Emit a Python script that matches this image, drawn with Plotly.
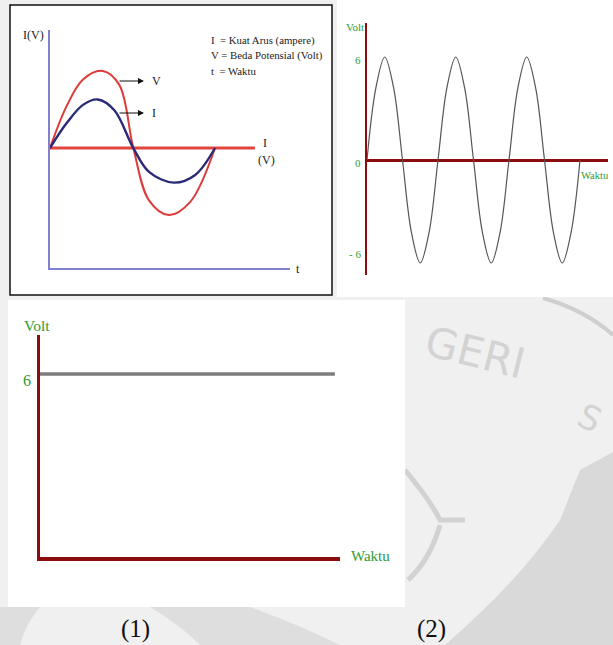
import plotly.graph_objects as go

W, H = 613, 645

# ---------------- data ----------------
# Panel A (I and V against time, one period = 1)
v_t = [0, 0.10, 0.20, 0.32, 0.42, 0.505, 0.60, 0.72, 0.85, 1.0]
v_val = [0, 0.54, 0.89, 1.0, 0.82, 0, -0.68, -0.87, -0.70, 0]
i_t = [0, 0.10, 0.20, 0.29, 0.39, 0.505, 0.60, 0.75, 0.88, 1.0]
i_val = [0, 0.32, 0.56, 0.63, 0.49, 0, -0.31, -0.45, -0.35, 0]
a_ref_t = [0, 1.242]
a_ref_val = [0, 0]
legend_lines = ["I  = Kuat Arus (ampere)", "V = Beda Potensial (Volt)", "t  = Waktu"]

# Panel (2): AC voltage, 3 periods
ac_t = [0, 0.125, 0.25, 0.375, 0.5, 0.625, 0.75, 0.875,
        1, 1.125, 1.25, 1.375, 1.5, 1.625, 1.75, 1.875,
        2, 2.125, 2.25, 2.375, 2.5, 2.625, 2.75, 2.875, 3]
ac_v = [0, 4.2, 6, 4.2, 0, -4.2, -6, -4.2,
        0, 4.2, 6, 4.2, 0, -4.2, -6, -4.2,
        0, 4.2, 6, 4.2, 0, -4.2, -6, -4.2, 0]
ac_ticks = [6, 0, -6]
ac_ticktext = ["6", "0", "- 6"]

# Panel (1): DC voltage
dc_t = [0, 9.83]
dc_v = [6, 6]
dc_ticks = [6, 0]
captions = ["(1)", "(2)"]


def px(x):
    return x / W


def py(y):
    return 1 - y / H


SERIF = "Liberation Serif"
GREEN = "#2f9a2f"
DARKRED = "#8a0c0c"
PURPLE = "#8080cc"

fig = go.Figure()

# Panel A traces
fig.add_trace(go.Scatter(x=a_ref_t, y=a_ref_val, mode="lines",
                         line=dict(color="#e2453c", width=3), xaxis="x", yaxis="y"))
fig.add_trace(go.Scatter(x=v_t, y=v_val, mode="lines", line_shape="spline",
                         line=dict(color="#dd3a3a", width=2), xaxis="x", yaxis="y"))
fig.add_trace(go.Scatter(x=i_t, y=i_val, mode="lines", line_shape="spline",
                         line=dict(color="#2b2a78", width=2.4), xaxis="x", yaxis="y"))

# Panel B trace
fig.add_trace(go.Scatter(x=ac_t, y=ac_v, mode="lines", line_shape="spline",
                         line=dict(color="#555555", width=1.2), xaxis="x2", yaxis="y2"))

# Panel C trace
fig.add_trace(go.Scatter(x=dc_t, y=dc_v, mode="lines",
                         line=dict(color="#7d7d7d", width=3.5), xaxis="x3", yaxis="y3"))

hidden = dict(showgrid=False, zeroline=False, showticklabels=False, ticks="", fixedrange=True)

layout = dict(
    width=W, height=H, margin=dict(l=0, r=0, t=0, b=0),
    paper_bgcolor="#f0f0f0", plot_bgcolor="rgba(0,0,0,0)", showlegend=False,
    hovermode=False,
    xaxis=dict(domain=[px(50), px(290)], range=[0, 240 / 165], showline=True,
               linecolor=PURPLE, linewidth=2, anchor="y", **hidden),
    yaxis=dict(domain=[py(268), py(30)], range=[(148 - 268) / 77, (148 - 30) / 77],
               showline=True, linecolor=PURPLE, linewidth=2, anchor="x", **hidden),
    xaxis2=dict(domain=[px(367), px(608)], range=[0, 241 / 71], showline=False,
                anchor="y2", **hidden),
    yaxis2=dict(domain=[py(275), py(23)], range=[(160 - 275) / 17.17, (160 - 23) / 17.17],
                showline=True, linecolor=DARKRED, linewidth=2, anchor="x2",
                showgrid=False, zeroline=True, zerolinecolor=DARKRED, zerolinewidth=3,
                showticklabels=False, ticks="", fixedrange=True),
    xaxis3=dict(domain=[px(40), px(340)], range=[0, 10], showline=True,
                linecolor=DARKRED, linewidth=3.5, anchor="y3", **hidden),
    yaxis3=dict(domain=[py(557), py(335)], range=[0, 222 / 30.5], showline=True,
                linecolor=DARKRED, linewidth=3, anchor="x3", **hidden),
)
fig.update_layout(**layout)

shapes = []
# watermark patches
shapes.append(dict(type="path", xref="paper", yref="paper", layer="below",
                   path=f"M {px(580)} {py(470)} L {px(613)} {py(452)} L {px(613)} {py(645)} "
                        f"L {px(445)} {py(645)} Q {px(520)} {py(580)} {px(560)} {py(520)} Z",
                   fillcolor="#d9d9d9", line=dict(width=0)))
shapes.append(dict(type="path", xref="paper", yref="paper", layer="below",
                   path=f"M {px(150)} {py(607)} L {px(250)} {py(607)} Q {px(300)} {py(625)} {px(340)} {py(645)} "
                        f"L {px(200)} {py(645)} Q {px(180)} {py(625)} {px(150)} {py(607)} Z",
                   fillcolor="#dedede", line=dict(width=0)))
shapes.append(dict(type="path", xref="paper", yref="paper", layer="below",
                   path=f"M {px(0)} {py(607)} L {px(40)} {py(607)} Q {px(25)} {py(625)} {px(20)} {py(645)} "
                        f"L {px(0)} {py(645)} Z",
                   fillcolor="#dedede", line=dict(width=0)))
shapes.append(dict(type="path", xref="paper", yref="paper", layer="below",
                   path=f"M {px(543)} {py(298)} Q {px(585)} {py(310)} {px(613)} {py(335)}",
                   line=dict(color="#cfcfcf", width=4)))
shapes.append(dict(type="path", xref="paper", yref="paper", layer="below",
                   path=f"M {px(405)} {py(470)} Q {px(430)} {py(500)} {px(440)} {py(520)} "
                        f"L {px(465)} {py(520)} M {px(440)} {py(525)} Q {px(430)} {py(560)} {px(408)} {py(580)}",
                   line=dict(color="#d2d2d2", width=5)))
# white panel backgrounds
shapes.append(dict(type="rect", xref="paper", yref="paper", layer="below",
                   x0=px(10), x1=px(332), y0=py(295), y1=py(5),
                   fillcolor="white", line=dict(color="#111111", width=1.5)))
shapes.append(dict(type="rect", xref="paper", yref="paper", layer="below",
                   x0=px(337), x1=px(613), y0=py(297), y1=py(0),
                   fillcolor="white", line=dict(width=0)))
shapes.append(dict(type="rect", xref="paper", yref="paper", layer="below",
                   x0=px(8), x1=px(405), y0=py(607), y1=py(300),
                   fillcolor="white", line=dict(width=0)))
fig.update_layout(shapes=shapes)

ann = []


def txt(x, y, s, size, color="#222222", xanchor="center", family=SERIF, angle=0):
    ann.append(dict(x=px(x), y=py(y), xref="paper", yref="paper", text=s, showarrow=False,
                    xanchor=xanchor, yanchor="middle", textangle=angle,
                    font=dict(family=family, size=size, color=color)))


# watermark text
txt(475, 352, "GERI", 42, color="#d3d3d3", family="DejaVu Sans", angle=14)
txt(590, 418, "S", 34, color="#d3d3d3", family="DejaVu Sans", angle=25)

# Panel A text
txt(33, 35, "I(V)", 12)
txt(298, 269, "t", 12)
txt(265, 143, "I", 12)
txt(266, 160, "(V)", 12)
for k, line in enumerate(legend_lines):
    txt(209, 40 + k * 15.5, line, 10.8, xanchor="left")
for yy, lab in [(81, "V"), (113, "I")]:
    ann.append(dict(x=px(144), y=py(yy), xref="paper", yref="paper", text="", showarrow=True,
                    ax=-26, ay=0, arrowhead=2, arrowsize=1, arrowwidth=1.2, arrowcolor="#111111"))
    txt(150, yy, lab, 12, xanchor="left")

# Panel B text
txt(355, 27, "Volt", 11, color=GREEN)
for v, t in zip(ac_ticks, ac_ticktext):
    ann.append(dict(x=px(363), y=v + (-0.15 if v == 0 else (-0.2 if v > 0 else 0.5)), xref="paper", yref="y2",
                    text=t, showarrow=False, xanchor="right", yanchor="middle",
                    font=dict(family=SERIF, size=11, color=GREEN)))
txt(611, 175, "Waktu", 10.5, color=GREEN, xanchor="right")

# Panel C text
txt(37, 325, "Volt", 15.5, color=GREEN)
for v in dc_ticks:
    ann.append(dict(x=px(33), y=v - 0.22 if v > 0 else v - 0.42, xref="paper", yref="y3",
                    text=str(v), showarrow=False, xanchor="right", yanchor="middle",
                    font=dict(family=SERIF, size=16, color=GREEN)))
txt(349, 556, "Waktu", 15, color=GREEN, xanchor="left")

# captions
txt(135, 629, captions[0], 25, color="#111111")
txt(431, 629, captions[1], 25, color="#111111")

fig.update_layout(annotations=ann)

fig.write_html("out.html", config={"displayModeBar": False, "staticPlot": True},
               post_script="document.body.style.margin='0';document.body.style.background='#f0f0f0';")
